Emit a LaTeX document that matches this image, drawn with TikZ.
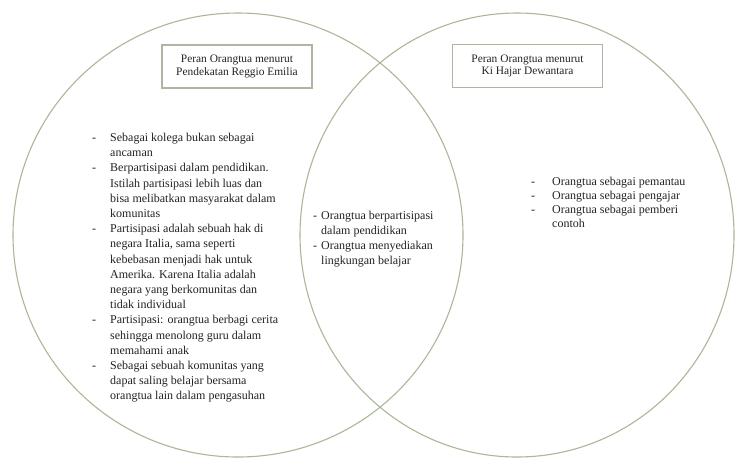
\documentclass[tikz,border=0pt]{standalone}
\usepackage{fontspec}
\setmainfont{Liberation Serif}
\definecolor{ringcol}{RGB}{170,184,152}
\definecolor{boxcol}{RGB}{172,182,160}
\definecolor{ink}{RGB}{35,35,35}
\tikzset{
  ring/.style={draw=ringcol, line width=1.1pt},
  titlebox/.style={draw=boxcol, line width=1.1pt, minimum width=150pt, minimum height=43pt,
    align=center, font=\fontsize{11.4}{12.8}\selectfont, text=ink, inner sep=0pt},
  listtext/.style={anchor=base west, inner sep=0pt, text=ink},
}
\begin{document}
\begin{tikzpicture}[x=1pt,y=-1pt]
\useasboundingbox (0,0) rectangle (738,459);
\fill[white] (0,0) rectangle (738,459);
% circles
\draw[ring] (238,235) ellipse [x radius=225pt, y radius=222pt];
\draw[ring] (517,235) ellipse [x radius=217pt, y radius=222pt];
% title boxes
\node[titlebox] (tl) at (237,66.5) {Peran Orangtua menurut\\Pendekatan Reggio Emilia};
\node[titlebox] (tr) at (527.5,66) {Peran Orangtua menurut\\Ki Hajar Dewantara};
% left list
\node[listtext, font=\fontsize{12}{15.2}\selectfont] (ll) at (92,141.5) {%
\begin{tabular}[t]{@{}p{18pt}@{}l@{}}
- & Sebagai kolega bukan sebagai\\
  & ancaman\\
- & Berpartisipasi dalam pendidikan.\\
  & Istilah partisipasi lebih luas dan\\
  & bisa melibatkan masyarakat dalam\\
  & komunitas\\
- & Partisipasi adalah sebuah hak di\\
  & negara Italia, sama seperti\\
  & kebebasan menjadi hak untuk\\
  & Amerika. Karena Italia adalah\\
  & negara yang berkomunitas dan\\
  & tidak individual\\
- & Partisipasi: orangtua berbagi cerita\\
  & sehingga menolong guru dalam\\
  & memahami anak\\
- & Sebagai sebuah komunitas yang\\
  & dapat saling belajar bersama\\
  & orangtua lain dalam pengasuhan
\end{tabular}};
% middle list
\node[listtext, font=\fontsize{12}{15}\selectfont] (ml) at (313,219) {%
\begin{tabular}[t]{@{}p{8pt}@{}l@{}}
- & Orangtua berpartisipasi\\
  & dalam pendidikan\\
- & Orangtua menyediakan\\
  & lingkungan belajar
\end{tabular}};
% right list
\node[listtext, font=\fontsize{12}{14}\selectfont] (rl) at (531,185.5) {%
\begin{tabular}[t]{@{}p{21pt}@{}l@{}}
- & Orangtua sebagai pemantau\\
- & Orangtua sebagai pengajar\\
- & Orangtua sebagai pemberi\\
  & contoh
\end{tabular}};
\end{tikzpicture}
\end{document}
